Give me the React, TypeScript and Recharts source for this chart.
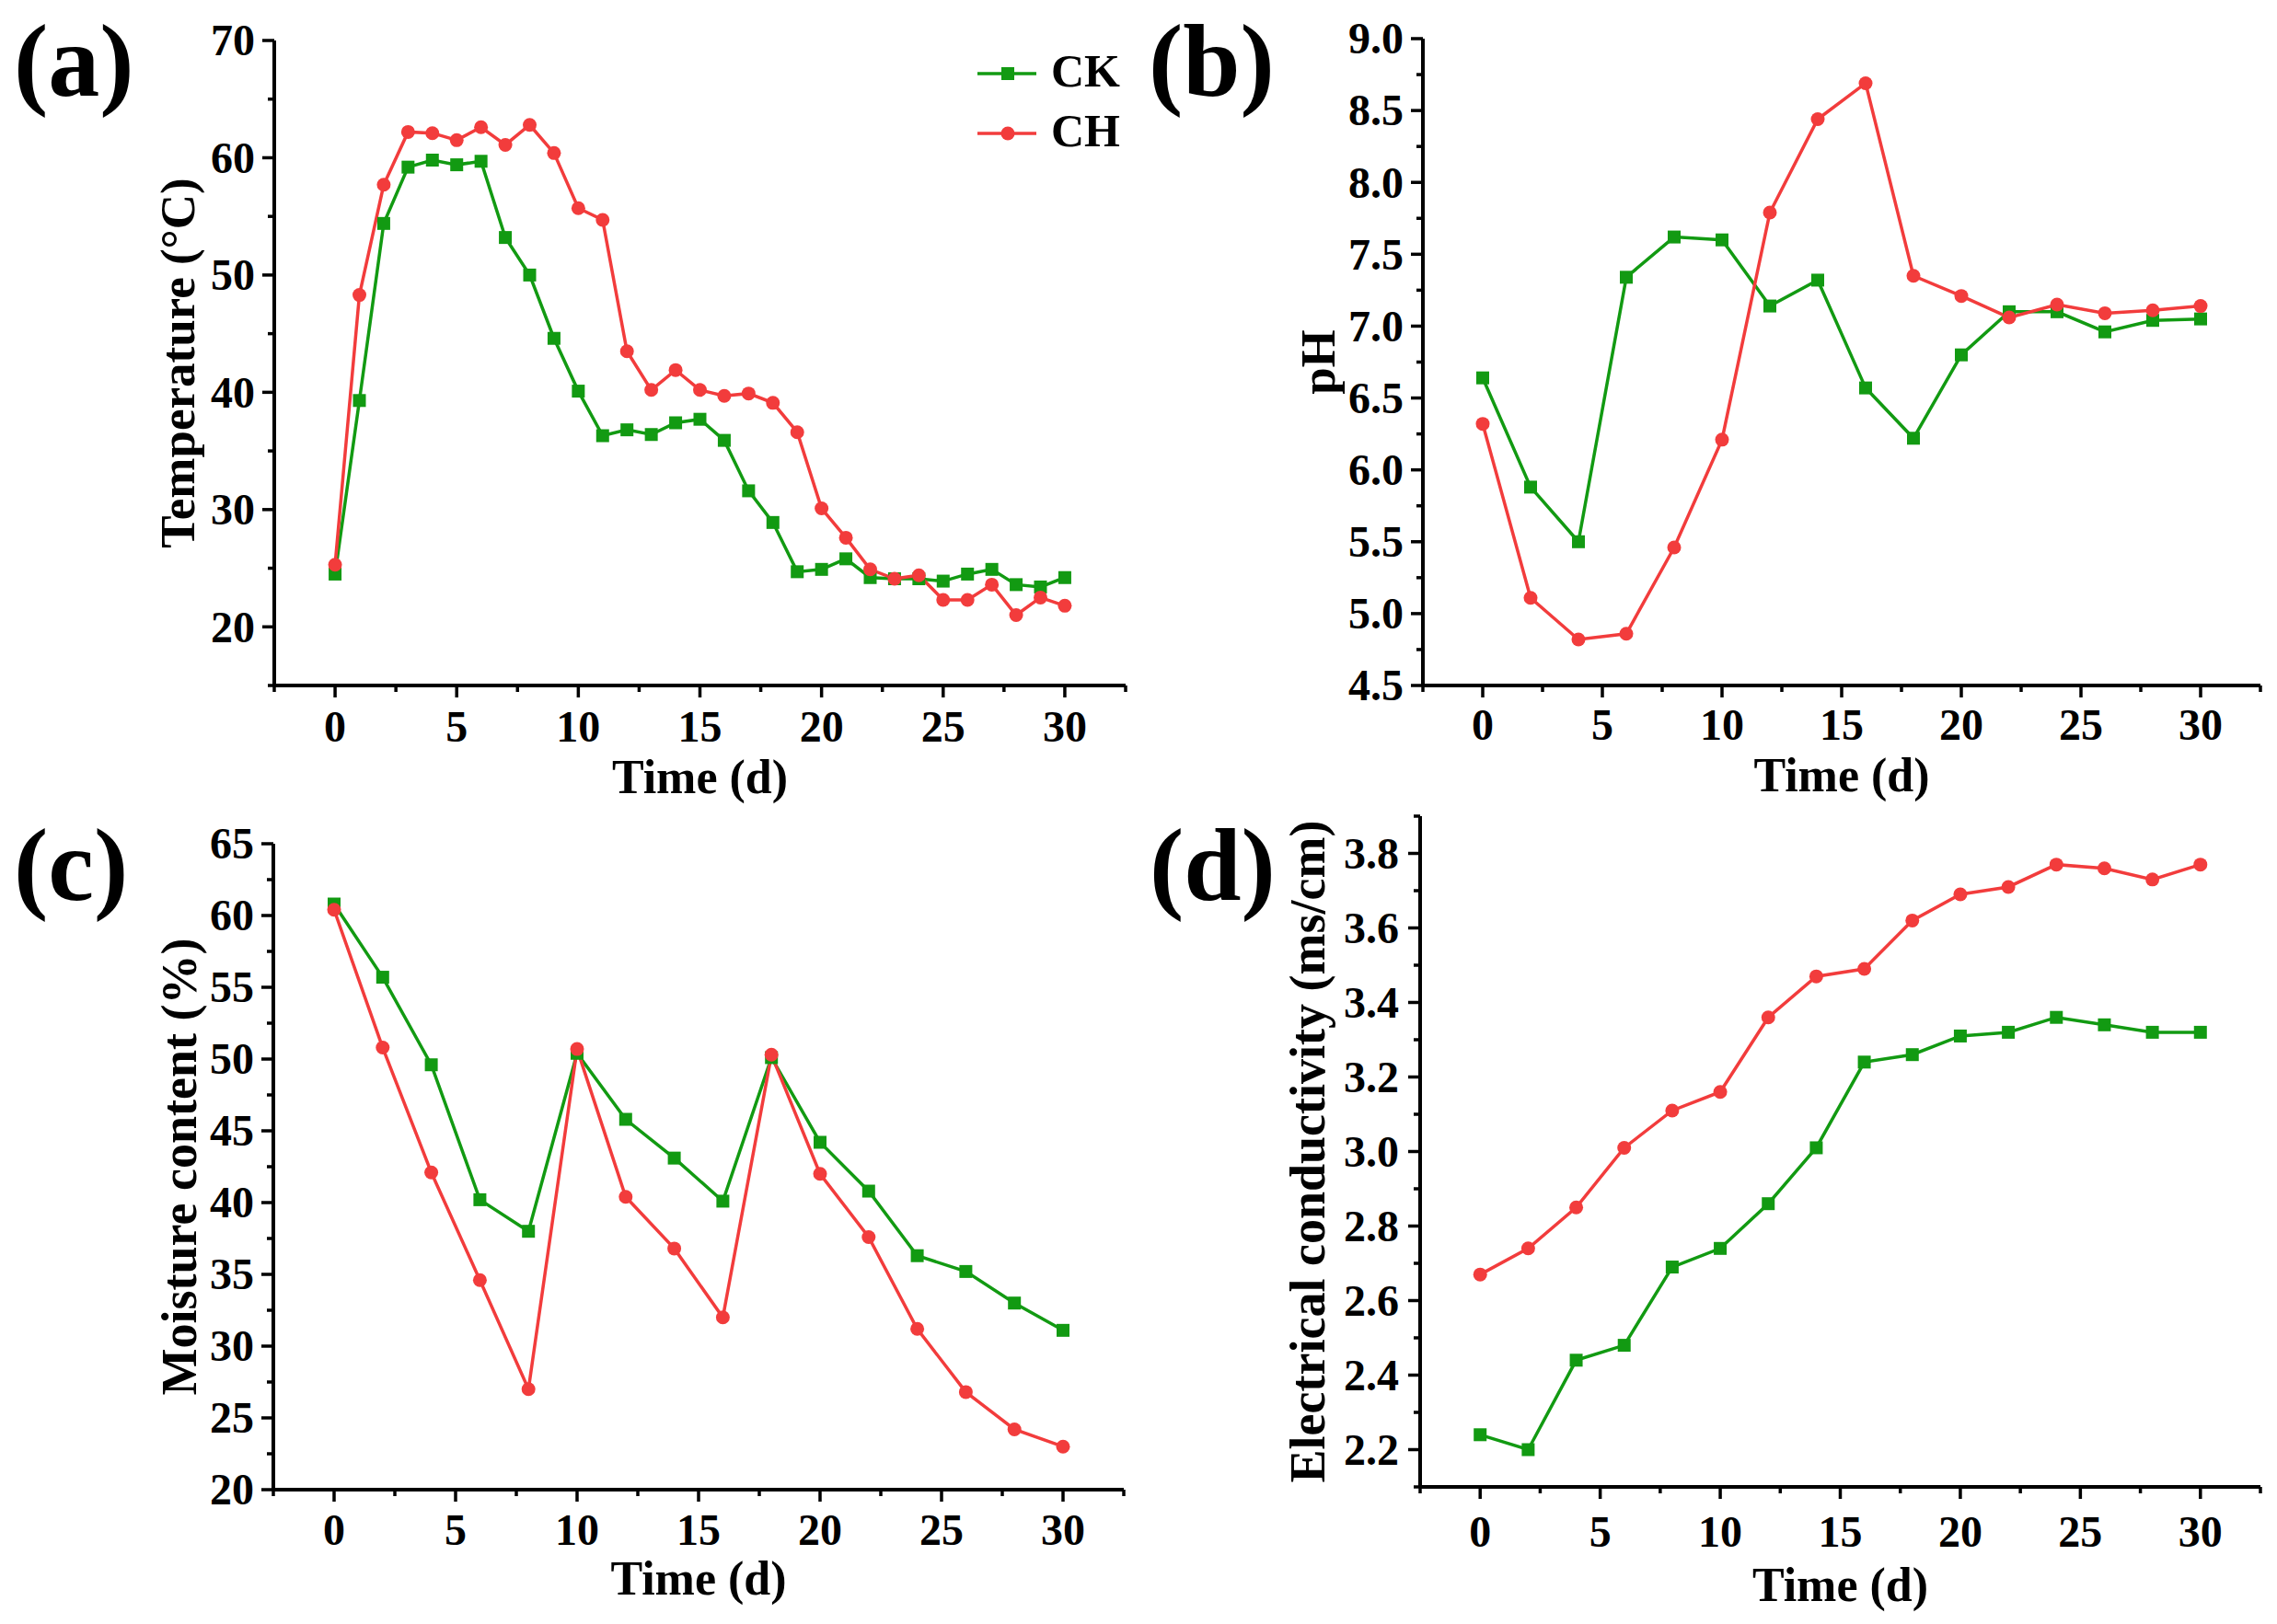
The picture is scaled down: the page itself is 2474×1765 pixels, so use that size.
import React from 'react';
import { LineChart, Line, XAxis, YAxis, Legend, Label } from 'recharts';

// ---------- data ----------
const daysDaily = [0, 1, 2, 3, 4, 5, 6, 7, 8, 9, 10, 11, 12, 13, 14, 15, 16, 17, 18, 19, 20, 21, 22, 23, 24, 25, 26, 27, 28, 29, 30];
const tempCK = [24.5, 39.3, 54.4, 59.2, 59.8, 59.4, 59.7, 53.2, 50.0, 44.6, 40.1, 36.3, 36.8, 36.4, 37.4, 37.7, 35.9, 31.6, 28.9, 24.7, 24.9, 25.8, 24.2, 24.1, 24.1, 23.9, 24.5, 24.9, 23.6, 23.4, 24.2];
const tempCH = [25.3, 48.3, 57.7, 62.2, 62.1, 61.5, 62.6, 61.1, 62.8, 60.4, 55.7, 54.7, 43.5, 40.2, 41.9, 40.2, 39.7, 39.9, 39.1, 36.6, 30.1, 27.6, 24.9, 24.1, 24.4, 22.3, 22.3, 23.6, 21.0, 22.5, 21.8];

const daysEven = [0, 2, 4, 6, 8, 10, 12, 14, 16, 18, 20, 22, 24, 26, 28, 30];
const phCK = [6.64, 5.88, 5.5, 7.34, 7.62, 7.6, 7.14, 7.32, 6.57, 6.22, 6.8, 7.1, 7.1, 6.96, 7.04, 7.05];
const phCH = [6.32, 5.11, 4.82, 4.86, 5.46, 6.21, 7.79, 8.44, 8.69, 7.35, 7.21, 7.06, 7.15, 7.09, 7.11, 7.14];

const moistCK = [60.8, 55.7, 49.6, 40.2, 38.0, 50.4, 45.8, 43.1, 40.1, 50.1, 44.2, 40.8, 36.3, 35.2, 33.0, 31.1];
const moistCH = [60.4, 50.8, 42.1, 34.6, 27.0, 50.7, 40.4, 36.8, 32.0, 50.3, 42.0, 37.6, 31.2, 26.8, 24.2, 23.0];

const ecCK = [2.24, 2.2, 2.44, 2.48, 2.69, 2.74, 2.86, 3.01, 3.24, 3.26, 3.31, 3.32, 3.36, 3.34, 3.32, 3.32];
const ecCH = [2.67, 2.74, 2.85, 3.01, 3.11, 3.16, 3.36, 3.47, 3.49, 3.62, 3.69, 3.71, 3.77, 3.76, 3.73, 3.77];

// ---------- ticks ----------
const xTicks = [-2.5, 0, 2.5, 5, 7.5, 10, 12.5, 15, 17.5, 20, 22.5, 25, 27.5, 30, 32.5];
const xMajor = [0, 5, 10, 15, 20, 25, 30];
const tempTicks = [15, 20, 25, 30, 35, 40, 45, 50, 55, 60, 65, 70];
const tempMajor = [20, 30, 40, 50, 60, 70];
const phTicks = [4.5, 4.75, 5.0, 5.25, 5.5, 5.75, 6.0, 6.25, 6.5, 6.75, 7.0, 7.25, 7.5, 7.75, 8.0, 8.25, 8.5, 8.75, 9.0];
const phMajor = [4.5, 5.0, 5.5, 6.0, 6.5, 7.0, 7.5, 8.0, 8.5, 9.0];
const moistTicks = [20, 22.5, 25, 27.5, 30, 32.5, 35, 37.5, 40, 42.5, 45, 47.5, 50, 52.5, 55, 57.5, 60, 62.5, 65];
const moistMajor = [20, 25, 30, 35, 40, 45, 50, 55, 60, 65];
const ecTicks = [2.1, 2.2, 2.3, 2.4, 2.5, 2.6, 2.7, 2.8, 2.9, 3.0, 3.1, 3.2, 3.3, 3.4, 3.5, 3.6, 3.7, 3.8, 3.9];
const ecMajor = [2.2, 2.4, 2.6, 2.8, 3.0, 3.2, 3.4, 3.6, 3.8];

const seriesNames = ['CK', 'CH'];

// ---------- styles ----------
const GREEN = '#129a12';
const RED = '#f23c3c';
const FONT = "'Liberation Serif', 'Times New Roman', serif";
const tickFont: React.CSSProperties = { fontFamily: FONT, fontWeight: 700, fontSize: 48, fill: '#000' };
const titleFont: React.CSSProperties = { fontFamily: FONT, fontWeight: 700, fontSize: 52, fill: '#000' };
const letterFont: React.CSSProperties = { fontFamily: FONT, fontWeight: 700, fontSize: 112, fill: '#000' };

const isMajor = (v: number, majors: number[]) => majors.some((m) => Math.abs(m - v) < 1e-6);

function makeXTick(majors: number[], labelDy: number) {
  return (props: any) => {
    const { x, y, payload } = props;
    const v = payload.value as number;
    const major = isMajor(v, majors);
    return (
      <g>
        <line x1={x} y1={y} x2={x} y2={y + (major ? 13 : 7)} stroke="#000" strokeWidth={3.5} />
        {major && (
          <text x={x} y={y + labelDy} textAnchor="middle" style={tickFont}>
            {String(v)}
          </text>
        )}
      </g>
    );
  };
}

function makeYTick(majors: number[], decimals: number, gap: number) {
  return (props: any) => {
    const { x, y, payload } = props;
    const v = payload.value as number;
    const major = isMajor(v, majors);
    return (
      <g>
        <line x1={x} y1={y} x2={x - (major ? 13 : 7)} y2={y} stroke="#000" strokeWidth={3.5} />
        {major && (
          <text x={x - gap} y={y} dy="0.34em" textAnchor="end" style={tickFont}>
            {v.toFixed(decimals)}
          </text>
        )}
      </g>
    );
  };
}

const squareDot = (props: any) => {
  const { cx, cy, index } = props;
  if (cx == null || cy == null) return <g key={`s-${index}`} />;
  return <rect key={`s-${index}`} x={cx - 7} y={cy - 7} width={14} height={14} fill={GREEN} />;
};
const circleDot = (props: any) => {
  const { cx, cy, index } = props;
  if (cx == null || cy == null) return <g key={`c-${index}`} />;
  return <circle key={`c-${index}`} cx={cx} cy={cy} r={7.5} fill={RED} />;
};

const xTitle = (dy: number) => (props: any) => {
  const vb = props.viewBox || {};
  return (
    <text x={vb.x + vb.width / 2} y={vb.y + dy} textAnchor="middle" style={titleFont}>
      Time (d)
    </text>
  );
};

const yTitle = (text: string, off: number, size: number) => (props: any) => {
  const vb = props.viewBox || {};
  const cx = vb.x + vb.width - off;
  const cy = vb.y + vb.height / 2;
  return (
    <text
      x={cx}
      y={cy}
      transform={`rotate(-90 ${cx} ${cy})`}
      textAnchor="middle"
      dominantBaseline="central"
      style={{ ...titleFont, fontSize: size }}
    >
      {text}
    </text>
  );
};

const LegendBox = () => (
  <svg width={200} height={140}>
    {seriesNames.map((name, i) => {
      const cy = i === 0 ? 40 : 105;
      const color = i === 0 ? GREEN : RED;
      return (
        <g key={name}>
          <line x1={12} y1={cy} x2={76} y2={cy} stroke={color} strokeWidth={3.5} />
          {i === 0 ? (
            <rect x={38} y={cy - 7} width={14} height={14} fill={color} />
          ) : (
            <circle cx={45} cy={cy} r={7.5} fill={color} />
          )}
          <text x={92} y={cy + 14} style={{ fontFamily: FONT, fontWeight: 700, fontSize: 50, fill: '#000' }}>
            {name}
          </text>
        </g>
      );
    })}
  </svg>
);

const buildRows = (days: number[], ck: number[], ch: number[]) =>
  days.map((d, i) => ({ day: d, CK: ck[i], CH: ch[i] }));

type PanelProps = {
  left: number;
  top: number;
  width: number;
  height: number;
  margin: { top: number; right: number; left: number; bottom: number };
  yWidth: number;
  xHeight: number;
  rows: any[];
  yDomain: [number, number];
  yTicks: number[];
  yMajor: number[];
  yDecimals: number;
  yGap: number;
  yLabel: string;
  yLabelOff: number;
  yLabelSize: number;
  xLabelDy: number;
  xTitleDy: number;
  legend?: boolean;
};

const Panel = (p: PanelProps) => (
  <div style={{ position: 'absolute', left: p.left, top: p.top, width: p.width, height: p.height }}>
    <LineChart width={p.width} height={p.height} data={p.rows} margin={p.margin}>
      <XAxis
        dataKey="day"
        type="number"
        domain={[-2.5, 32.5]}
        ticks={xTicks}
        interval={0}
        height={p.xHeight}
        tickSize={0}
        tickMargin={0}
        tickLine={false}
        axisLine={{ stroke: '#000', strokeWidth: 4 }}
        tick={makeXTick(xMajor, p.xLabelDy)}
      >
        <Label content={xTitle(p.xTitleDy)} />
      </XAxis>
      <YAxis
        type="number"
        domain={p.yDomain}
        ticks={p.yTicks}
        interval={0}
        width={p.yWidth}
        tickSize={0}
        tickMargin={0}
        tickLine={false}
        allowDataOverflow
        axisLine={{ stroke: '#000', strokeWidth: 4 }}
        tick={makeYTick(p.yMajor, p.yDecimals, p.yGap)}
      >
        <Label content={yTitle(p.yLabel, p.yLabelOff, p.yLabelSize)} />
      </YAxis>
      <Line
        type="linear"
        dataKey="CK"
        name="CK"
        stroke={GREEN}
        strokeWidth={3.5}
        dot={squareDot}
        activeDot={false}
        isAnimationActive={false}
      />
      <Line
        type="linear"
        dataKey="CH"
        name="CH"
        stroke={RED}
        strokeWidth={3.5}
        dot={circleDot}
        activeDot={false}
        isAnimationActive={false}
      />
      {p.legend && (
        <Legend
          layout="vertical"
          align="center"
          verticalAlign="middle"
          wrapperStyle={{ left: 1050, top: 40, width: 200, height: 140, bottom: 'auto', right: 'auto' }}
          content={() => <LegendBox />}
        />
      )}
    </LineChart>
  </div>
);

export default function App() {
  return (
    <div style={{ position: 'absolute', left: 0, top: 0, width: 2474, height: 1765, background: '#fff', overflow: 'hidden' }}>
      <Panel
        left={0}
        top={0}
        width={1237}
        height={880}
        margin={{ top: 44, right: 14, left: 0, bottom: 0 }}
        yWidth={298}
        xHeight={135}
        rows={buildRows(daysDaily, tempCK, tempCH)}
        yDomain={[15, 70]}
        yTicks={tempTicks}
        yMajor={tempMajor}
        yDecimals={0}
        yGap={21}
        yLabel="Temperature (°C)"
        yLabelOff={105}
        yLabelSize={53}
        xLabelDy={61}
        xTitleDy={117}
        legend
      />
      <Panel
        left={1237}
        top={0}
        width={1237}
        height={880}
        margin={{ top: 42, right: 18, left: 0, bottom: 0 }}
        yWidth={309}
        xHeight={135}
        rows={buildRows(daysEven, phCK, phCH)}
        yDomain={[4.5, 9.0]}
        yTicks={phTicks}
        yMajor={phMajor}
        yDecimals={1}
        yGap={21}
        yLabel="pH"
        yLabelOff={114}
        yLabelSize={53}
        xLabelDy={59}
        xTitleDy={115}
      />
      <Panel
        left={0}
        top={880}
        width={1237}
        height={885}
        margin={{ top: 37, right: 16, left: 0, bottom: 0 }}
        yWidth={297}
        xHeight={146}
        rows={buildRows(daysEven, moistCK, moistCH)}
        yDomain={[20, 65]}
        yTicks={moistTicks}
        yMajor={moistMajor}
        yDecimals={0}
        yGap={21}
        yLabel="Moisture content (%)"
        yLabelOff={102}
        yLabelSize={54}
        xLabelDy={60}
        xTitleDy={114}
      />
      <Panel
        left={1237}
        top={880}
        width={1237}
        height={885}
        margin={{ top: 7, right: 18, left: 0, bottom: 0 }}
        yWidth={306}
        xHeight={149}
        rows={buildRows(daysEven, ecCK, ecCH)}
        yDomain={[2.1, 3.9]}
        yTicks={ecTicks}
        yMajor={ecMajor}
        yDecimals={1}
        yGap={23}
        yLabel="Electrical conductivity (ms/cm)"
        yLabelOff={122}
        yLabelSize={54}
        xLabelDy={65}
        xTitleDy={124}
      />
      <svg
        width={2474}
        height={1765}
        style={{ position: 'absolute', left: 0, top: 0, pointerEvents: 'none' }}
      >
        <text x={15} y={104} style={letterFont}>(a)</text>
        <text x={1248} y={104} style={letterFont}>(b)</text>
        <text x={15} y={978} style={letterFont}>(c)</text>
        <text x={1249} y={978} style={letterFont}>(d)</text>
      </svg>
    </div>
  );
}
